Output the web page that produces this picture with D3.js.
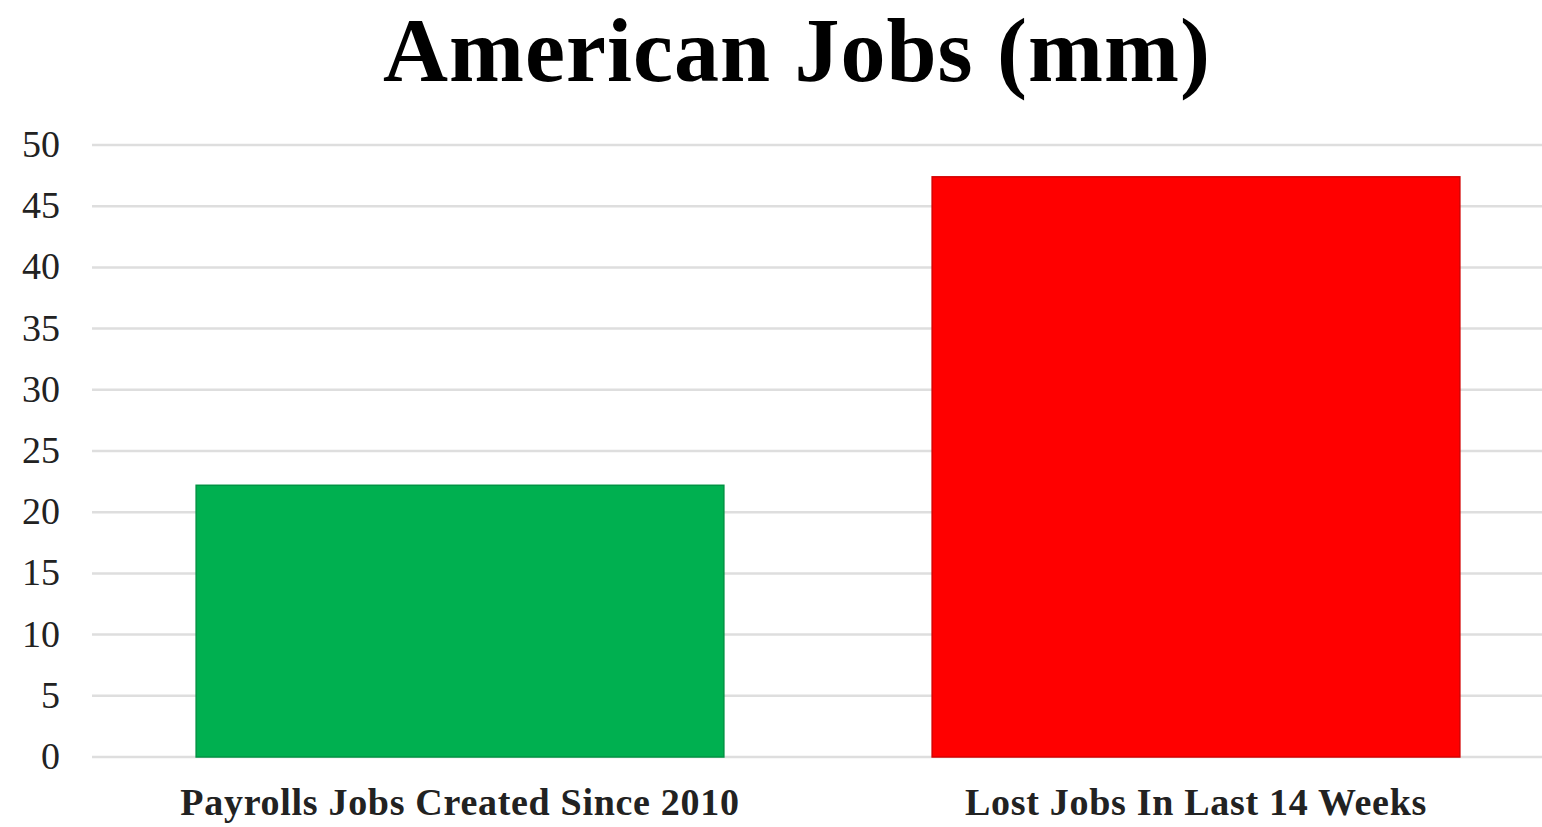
<!DOCTYPE html>
<html>
<head>
<meta charset="utf-8">
<script src="https://cdn.jsdelivr.net/npm/d3@7"></script>
<style>
  html, body { margin: 0; padding: 0; background: #fff; }
  svg { display: block; }
</style>
</head>
<body>
<svg id="chart" width="1542" height="827"></svg>
<script>
// Jobs data, in millions
const categories = ["Payrolls Jobs Created Since 2010", "Lost Jobs In Last 14 Weeks"];
const values = [22.2, 47.4];
const colors = ["#00B050", "#FF0000"];
const tickValues = [0, 5, 10, 15, 20, 25, 30, 35, 40, 45, 50];
const title = "American Jobs (mm)";

const svg = d3.select("#chart");
const W = 1542, H = 827;
const left = 92, plotTop = 145, plotBottom = 757;
const serif = "'Liberation Serif', 'DejaVu Serif', serif";

const x = d3.scaleBand()
  .domain(categories)
  .range([left, left + 2 * 736])
  .paddingInner(0.283)
  .paddingOuter(0.1415);

const y = d3.scaleLinear().domain([0, 50]).range([plotBottom, plotTop]);

// Horizontal gridlines
svg.append("g")
  .selectAll("line")
  .data(tickValues)
  .join("line")
  .attr("x1", left)
  .attr("x2", W)
  .attr("y1", d => y(d))
  .attr("y2", d => y(d))
  .attr("stroke", "#dedede")
  .attr("stroke-width", 2.5);

// Y axis labels
const yAxis = d3.axisLeft(y).tickValues(tickValues).tickSize(0).tickPadding(0);
const ya = svg.append("g").attr("transform", `translate(60,0)`).call(yAxis);
ya.select(".domain").remove();
ya.selectAll("text")
  .attr("font-family", serif)
  .attr("font-size", 38)
  .attr("fill", "#222")
  .attr("dy", "0.3em");

// Bars
svg.append("g")
  .selectAll("rect")
  .data(categories)
  .join("rect")
  .attr("x", d => x(d))
  .attr("width", x.bandwidth())
  .attr("y", (d, i) => y(values[i]))
  .attr("height", (d, i) => y(0) - y(values[i]))
  .attr("fill", (d, i) => colors[i])
  .attr("stroke", (d, i) => d3.color(colors[i]).darker(0.5))
  .attr("stroke-width", 1.5);

// Category labels
const xAxis = d3.axisBottom(x).tickSize(0).tickPadding(0);
const xa = svg.append("g").attr("transform", `translate(0,${plotBottom})`).call(xAxis);
xa.select(".domain").remove();
xa.selectAll("text")
  .attr("font-family", serif)
  .attr("font-size", 38)
  .attr("font-weight", "bold")
  .attr("letter-spacing", 0.7)
  .attr("fill", "#222")
  .attr("y", 58)
  .attr("dy", 0);

// Title
svg.append("text")
  .attr("x", 797)
  .attr("y", 81)
  .attr("text-anchor", "middle")
  .attr("font-family", serif)
  .attr("font-size", 90)
  .attr("font-weight", "bold")
  .attr("letter-spacing", 1)
  .attr("fill", "#000")
  .text(title);
</script>
</body>
</html>
